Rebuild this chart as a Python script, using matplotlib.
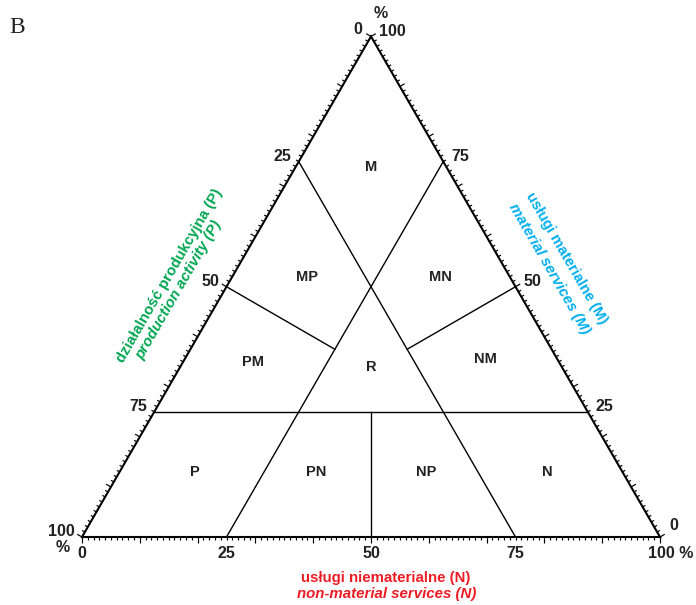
import numpy as np
import matplotlib
matplotlib.use('Agg')
import matplotlib.pyplot as plt
from matplotlib.collections import LineCollection

plt.rcParams['font.family'] = ['Liberation Sans', 'DejaVu Sans']

# ternary points are (P, N, M): P = production, N = non-material, M = material
boundaries = [
    [(0.75, 0.0, 0.25), (0.0, 0.75, 0.25)],      # M = 25 %
    [(0.5, 0.5, 0.0), (0.375, 0.375, 0.25)],      # N = P below M = 25 %
    [(0.75, 0.25, 0.0), (0.0, 0.25, 0.75)],       # N = 25 %
    [(0.25, 0.75, 0.0), (0.25, 0.0, 0.75)],       # P = 25 %
    [(0.5, 0.0, 0.5), (0.375, 0.25, 0.375)],      # P = M left of N = 25 %
    [(0.0, 0.5, 0.5), (0.25, 0.375, 0.375)],      # N = M right of P = 25 %
]

region_names = ['M', 'MP', 'MN', 'PM', 'R', 'NM', 'P', 'PN', 'NP', 'N']
region_pos = [(0.13, 0.13, 0.74), (0.35, 0.13, 0.52), (0.12, 0.36, 0.52),
              (0.53, 0.12, 0.35), (0.33, 0.33, 0.34), (0.125, 0.52, 0.355),
              (0.74, 0.13, 0.13), (0.53, 0.34, 0.13), (0.34, 0.53, 0.13),
              (0.13, 0.74, 0.13)]

tick_values = [0, 25, 50, 75, 100]

green = '#00a651'
cyan = '#00aeef'
red = '#ed1c24'

S3 = np.sqrt(3) / 2
SIDE = 578.0  # triangle side in pixels


def tern(p, n, m):
    s = p + n + m
    n, m = n / s, m / s
    return n + m / 2, m * S3


fig = plt.figure(figsize=(6.96, 6.05), dpi=100)
ax = fig.add_axes([0, 0, 1, 1])
ax.set_xlim(-82 / SIDE, 614 / SIDE)
ax.set_ylim(-68 / SIDE, 537 / SIDE)
ax.axis('off')

# outer triangle
corners = [tern(1, 0, 0), tern(0, 1, 0), tern(0, 0, 1), tern(1, 0, 0)]
ax.plot([c[0] for c in corners], [c[1] for c in corners], color='k', lw=1.5,
        solid_joinstyle='miter')

# ticks every 1 %, longer every 10 %
segs = []
for i in range(0, 101):
    t = i / 100.0
    L = (5.5 if i % 10 == 0 else 3.2) / SIDE
    # bottom (N)
    x, y = tern(1 - t, t, 0)
    segs.append([(x, y), (x, y - L)])
    # left (P)
    x, y = tern(t, 0, 1 - t)
    segs.append([(x, y), (x - 0.866 * L, y + 0.5 * L)])
    # right (M)
    x, y = tern(0, 1 - t, t)
    segs.append([(x, y), (x + 0.866 * L, y + 0.5 * L)])
ax.add_collection(LineCollection(segs, colors='k', linewidths=0.85))

# class boundaries
for a, b in boundaries:
    xa, ya = tern(*a)
    xb, yb = tern(*b)
    ax.plot([xa, xb], [ya, yb], color='k', lw=1.0)

for name, pos in zip(region_names, region_pos):
    x, y = tern(*pos)
    ax.text(x, y, name, ha='center', va='center', fontsize=10.5, fontweight='bold',
            color='#222222')

lab = dict(fontsize=11.5, fontweight='bold', textcoords='offset pixels', va='center',
           color='#222222')

for v in tick_values:
    t = v / 100.0
    # left axis, P
    if v == 0:
        ax.annotate('0', tern(0, 0, 1), xytext=(-9, 7), ha='right', **lab)
    else:
        ax.annotate(str(v), tern(t, 0, 1 - t), xytext=(-7, 5), ha='right', **lab)
    # right axis, M
    if v == 0:
        ax.annotate('0', tern(0, 1, 0), xytext=(9, 11), ha='left', **lab)
    else:
        ax.annotate(str(v), tern(0, 1 - t, t), xytext=(8, 5), ha='left', **lab)
    # bottom axis, N
    if v == 100:
        ax.annotate('100 %', tern(0, 1, 0), xytext=(-12, -16), ha='left', **lab)
    else:
        ax.annotate(str(v), tern(1 - t, t, 0), xytext=(0, -16), ha='center', **lab)

ax.annotate('%', tern(0, 0, 1), xytext=(10, 23), ha='center', **lab)
ax.annotate('%', tern(1, 0, 0), xytext=(-19, -11), ha='center', **lab)

# axis titles
tt = dict(fontsize=10.8, fontweight='bold', textcoords='offset pixels',
          ha='center', va='center')
ax.annotate('działalność produkcyjna (P)', tern(0.5, 0, 0.5), xytext=(-57, 11),
            rotation=60, color=green, **tt)
ax.annotate('production activity (P)', tern(0.5, 0, 0.5), xytext=(-48, -3),
            rotation=60, color=green, style='italic', **tt)
ax.annotate('usługi materialne (M)', tern(0, 0.5, 0.5), xytext=(51, 28),
            rotation=-60, color=cyan, **tt)
ax.annotate('material services (M)', tern(0, 0.5, 0.5), xytext=(34, 18),
            rotation=-60, color=cyan, style='italic', **tt)
ax.annotate('usługi niematerialne (N)', tern(0.5, 0.5, 0), xytext=(15, -41),
            color=red, **tt)
ax.annotate('non-material services (N)', tern(0.5, 0.5, 0), xytext=(16, -57),
            color=red, style='italic', **tt)

fig.text(9 / 696, 1 - 33 / 605, 'B', family='Liberation Serif', fontsize=17,
         ha='left', va='baseline', color='#222222')

fig.savefig('out.png', dpi=100)
